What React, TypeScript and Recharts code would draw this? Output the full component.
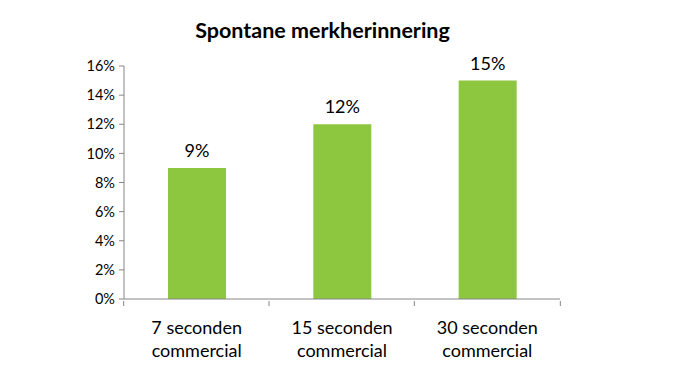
import React from 'react';
import { BarChart, Bar, XAxis, YAxis, LabelList } from 'recharts';

const categories = ['7 seconden commercial', '15 seconden commercial', '30 seconden commercial'];
const recall = [0.09, 0.12, 0.15];
const yTicks = [0, 0.02, 0.04, 0.06, 0.08, 0.1, 0.12, 0.14, 0.16];

const data = categories.map((name, i) => ({ name, value: recall[i] }));

const FONT = 'Lato, "Open Sans", sans-serif';
const AXIS = '#868686';
const BAND = 146;

const pct = (v: number) => `${Math.round(v * 100)}%`;

const CategoryTick = (props: any) => {
  const { x, y, payload, index } = props;
  const words = String(payload.value).split(' ');
  const line1 = words.slice(0, 2).join(' ');
  const line2 = words.slice(2).join(' ');
  return (
    <g>
      <line x1={x - BAND / 2} y1={y} x2={x - BAND / 2} y2={y + 5} stroke={AXIS} />
      {index === categories.length - 1 && (
        <line x1={x + BAND / 2} y1={y} x2={x + BAND / 2} y2={y + 5} stroke={AXIS} />
      )}
      <text x={x} y={y} textAnchor="middle" fill="#000" fontSize={18} fontFamily={FONT}>
        <tspan x={x} dy={33}>{line1}</tspan>
        <tspan x={x} dy={23}>{line2}</tspan>
      </text>
    </g>
  );
};

export default function App() {
  return (
    <div style={{ position: 'absolute', left: 0, top: 0, width: 675, height: 380, background: '#fff' }}>
      <div
        style={{
          position: 'absolute',
          top: 17,
          left: 0,
          width: 645,
          textAlign: 'center',
          fontFamily: FONT,
          fontWeight: 'bold',
          fontSize: 21.5,
          color: '#000',
        }}
      >
        Spontane merkherinnering
      </div>
      <BarChart
        width={675}
        height={380}
        data={data}
        margin={{ top: 66, right: 115, bottom: 0, left: 0 }}
      >
        <XAxis
          dataKey="name"
          stroke={AXIS}
          tickLine={false}
          tickSize={0}
          tick={<CategoryTick />}
          interval={0}
          height={81}
        />
        <YAxis
          domain={[0, 0.16]}
          ticks={yTicks}
          tickFormatter={pct}
          stroke={AXIS}
          tickSize={5}
          tickMargin={4}
          tick={{ fill: '#000', fontSize: 14.5, fontFamily: FONT }}
          width={124}
          interval={0}
        />
        <Bar dataKey="value" fill="#8DC63F" barSize={58} isAnimationActive={false}>
          <LabelList
            dataKey="value"
            position="top"
            offset={11}
            formatter={(v: any) => pct(Number(v))}
            style={{ fill: '#000', fontSize: 18, fontFamily: FONT }}
          />
        </Bar>
      </BarChart>
    </div>
  );
}
